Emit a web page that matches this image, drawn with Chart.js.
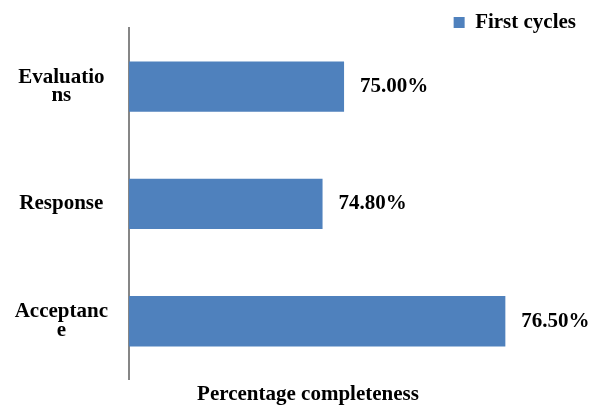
<!DOCTYPE html>
<html>
<head>
<meta charset="utf-8">
<script src="https://cdn.jsdelivr.net/npm/chart.js@4.4.1/dist/chart.umd.min.js"></script>
<style>
  html, body { margin: 0; padding: 0; background: #fff; }
  #wrap { width: 592px; height: 407px; }
</style>
</head>
<body>
<div id="wrap"><canvas id="chart" width="592" height="407"></canvas></div>
<script>
// Chart data
const categories = [['Evaluatio', 'ns'], ['Response'], ['Acceptanc', 'e']];
const firstCycles = [75.0, 74.8, 76.5];
const seriesName = 'First cycles';
const axisTitle = 'Percentage completeness';

const serif = '"Liberation Serif", "Times New Roman", serif';

// draws "75.00%" etc. just past the end of each bar
const valueLabels = {
  id: 'valueLabels',
  afterDatasetsDraw(chart) {
    const ctx = chart.ctx;
    ctx.save();
    ctx.font = 'bold 21px ' + serif;
    ctx.fillStyle = '#000';
    ctx.textAlign = 'left';
    ctx.textBaseline = 'middle';
    chart.getDatasetMeta(0).data.forEach((bar, i) => {
      ctx.fillText(firstCycles[i].toFixed(2) + '%', bar.x + 16, bar.y);
    });
    ctx.restore();
  }
};

// legend sits partly beside the plot: let its text run past its box,
// and centre the bottom title a bit right of the canvas middle
const layoutTweaks = {
  id: 'layoutTweaks',
  afterLayout(chart) {
    chart.legend.bottom = chart.legend.top + 40;
    chart.titleBlock.left += 30;
  }
};

const ctx = document.getElementById('chart').getContext('2d');
const chart = new Chart(ctx, {
  type: 'bar',
  data: {
    labels: categories,
    datasets: [{
      label: seriesName,
      data: firstCycles,
      backgroundColor: '#4F81BD',
      borderWidth: 0,
      barPercentage: 0.43,
      categoryPercentage: 1.0
    }]
  },
  options: {
    indexAxis: 'y',
    responsive: false,
    animation: false,
    layout: {
      padding: { left: 0, right: 6, top: 2, bottom: 0 }
    },
    scales: {
      x: { display: false, min: 73, max: 77.25 },
      y: {
        grid: { display: false, drawTicks: false },
        border: { display: true, color: '#868686', width: 2 },
        ticks: {
          crossAlign: 'center',
          padding: 21,
          color: '#000',
          font: { family: serif, size: 21, weight: 'bold', lineHeight: 0.88 }
        },
        afterFit(scale) {
          scale.width = 129;
          scale.paddingTop = 0;
          scale.paddingBottom = 0;
        }
      }
    },
    plugins: {
      legend: {
        position: 'top',
        align: 'end',
        maxHeight: 26,
        labels: {
          boxWidth: 11,
          boxHeight: 11,
          padding: 10,
          color: '#000',
          font: { family: serif, size: 21, weight: 'bold' }
        }
      },
      title: {
        display: true,
        position: 'bottom',
        text: axisTitle,
        color: '#000',
        padding: { top: 2, bottom: 0 },
        font: { family: serif, size: 21, weight: 'bold' }
      },
      tooltip: { enabled: false }
    }
  },
  plugins: [valueLabels, layoutTweaks]
});
</script>
</body>
</html>
